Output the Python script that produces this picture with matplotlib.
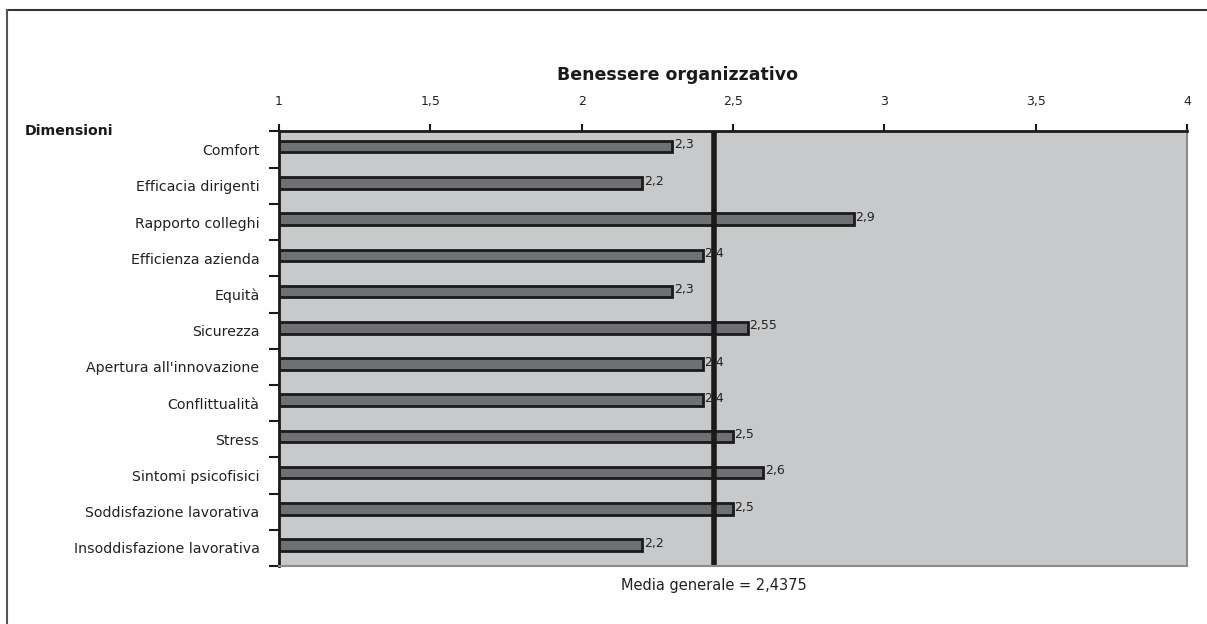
import numpy as np
import matplotlib
matplotlib.use("Agg")
import matplotlib.pyplot as plt
from matplotlib.lines import Line2D

# data
categorie = ["Comfort", "Efficacia dirigenti", "Rapporto colleghi", "Efficienza azienda",
             "Equità", "Sicurezza", "Apertura all'innovazione", "Conflittualità",
             "Stress", "Sintomi psicofisici", "Soddisfazione lavorativa",
             "Insoddisfazione lavorativa"]
valori = [2.3, 2.2, 2.9, 2.4, 2.3, 2.55, 2.4, 2.4, 2.5, 2.6, 2.5, 2.2]
etichette = ["2,3", "2,2", "2,9", "2,4", "2,3", "2,55", "2,4", "2,4", "2,5", "2,6", "2,5", "2,2"]
media = 2.4375
xticks = [1, 1.5, 2, 2.5, 3, 3.5, 4]
xticklabels = ["1", "1,5", "2", "2,5", "3", "3,5", "4"]

plt.rcParams['font.family'] = 'DejaVu Sans'

fig = plt.figure(figsize=(12.07, 6.24), dpi=100)
ax = fig.add_axes([0.2311, 0.0929, 0.7523, 0.6964])
ax.set_facecolor('#c8c9cb')

y = np.arange(len(categorie))
base = 1.0
ax.barh(y - 0.08, np.array(valori) - base, left=base, height=0.32,
        color='#6f7073', edgecolor='#1a1a1a', linewidth=2)

for yi, v, lab in zip(y, valori, etichette):
    ax.text(v + 0.005, yi - 0.13, lab, fontsize=9, color='#222222', va='center', ha='left')

ax.axvline(media, color='#1a1a1a', linewidth=4)

ax.set_xlim(1, 4)
ax.set_ylim(len(categorie) - 0.5, -0.5)

ax.xaxis.tick_top()
ax.set_xticks(xticks)
ax.set_xticklabels(xticklabels, fontsize=9, color='#222222')
ax.tick_params(axis='x', direction='out', length=5, width=1.5, color='#1a1a1a', pad=12)

ax.set_yticks(np.arange(len(categorie) + 1) - 0.5, minor=False)
ax.set_yticklabels([])
ax.set_yticks(y, minor=True)
ax.set_yticklabels(categorie, minor=True, fontsize=10.2, color='#222222')
ax.tick_params(axis='y', which='major', direction='out', length=7, width=1.5, color='#1a1a1a')
ax.tick_params(axis='y', which='minor', length=0, pad=14)

ax.spines['top'].set_linewidth(2)
ax.spines['top'].set_color('#1a1a1a')
ax.spines['left'].set_linewidth(2)
ax.spines['left'].set_color('#1a1a1a')
ax.spines['right'].set_color('#8c8c8c')
ax.spines['right'].set_linewidth(1.5)
ax.spines['bottom'].set_color('#8c8c8c')
ax.spines['bottom'].set_linewidth(1.5)

fig.text(0.5617, 0.880, "Benessere organizzativo", fontsize=12.5, fontweight='bold',
         ha='center', va='center', color='#1a1a1a')
fig.text(0.0207, 0.790, "Dimensioni", fontsize=10.2, fontweight='bold',
         ha='left', va='center', color='#1a1a1a')
ax.text(media, len(categorie) - 0.5 + 0.55, "Media generale = 2,4375", fontsize=10.5,
        ha='center', va='center', color='#222222')

# outer frame (only top and left edges visible)
fig.add_artist(Line2D([0.006, 1.0], [0.984, 0.984], transform=fig.transFigure,
                      color='#333333', linewidth=1.5))
fig.add_artist(Line2D([0.006, 0.006], [0.0, 0.984], transform=fig.transFigure,
                      color='#555555', linewidth=1.5))

fig.savefig("out.png", dpi=100)
